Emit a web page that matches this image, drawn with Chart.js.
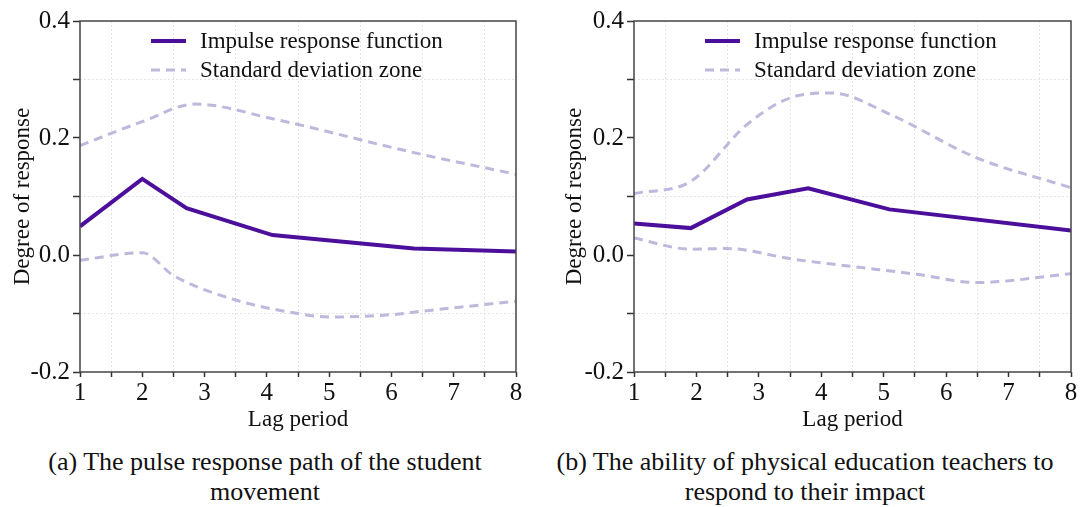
<!DOCTYPE html>
<html>
<head>
<meta charset="utf-8">
<script src="https://cdn.jsdelivr.net/npm/chart.js@4/dist/chart.umd.min.js"></script>
<style>
  body { margin: 0; background: #fff; width: 1080px; height: 507px; position: relative; overflow: hidden; }
  .panel { position: absolute; top: 0; width: 540px; height: 440px; }
  .caption { position: absolute; top: 447px; width: 540px; text-align: center; font: 26px "Liberation Serif", serif; line-height: 30px; color: #111; white-space: nowrap; }
</style>
</head>
<body>
<div class="panel" style="left:0"><canvas id="chartA"></canvas></div>
<div class="panel" style="left:540px"><canvas id="chartB"></canvas></div>
<div class="caption" style="left:-5px">(a) The pulse response path of the student<br>movement</div>
<div class="caption" style="left:535px">(b) The ability of physical education teachers to<br>respond to their impact</div>
<script>
// --- dados ---
const legendLabels = ['Impulse response function', 'Standard deviation zone'];
const xTitle = 'Lag period';
const yTitle = 'Degree of response';

// painel (a)
const irfXA = [1, 2, 2.71, 4.09, 6.36, 8];
const irfYA = [0.049, 0.130, 0.080, 0.034, 0.011, 0.006];
const upperXA = [1, 2, 2.85, 4.09, 6.36, 8];
const upperYA = [0.187, 0.228, 0.258, 0.233, 0.175, 0.138];
const lowerXA = [1, 2, 2.5, 3.5, 4.5, 5, 6, 6.5, 8];
const lowerYA = [-0.009, 0.004, -0.035, -0.077, -0.100, -0.106, -0.102, -0.096, -0.079];

// painel (b)
const irfXB = [1, 1.91, 2.81, 3.79, 5.09, 8];
const irfYB = [0.054, 0.046, 0.095, 0.114, 0.078, 0.042];
const upperXB = [1, 1.91, 2.82, 3.54, 4.17, 5.09, 6.47, 8];
const upperYB = [0.105, 0.126, 0.224, 0.270, 0.277, 0.241, 0.167, 0.115];
const lowerXB = [1, 1.91, 2.49, 3.54, 4.53, 5.53, 6.49, 8];
const lowerYB = [0.029, 0.010, 0.011, -0.007, -0.020, -0.033, -0.047, -0.032];

const IRF_COLOR = '#4b0f9c';
const BAND_COLOR = '#bdb8dc';
const FONT = '"Liberation Serif", "Times New Roman", serif';

const pts = (xs, ys) => xs.map((x, i) => ({ x, y: ys[i] }));

// caixa em volta da área do gráfico
const boxPlugin = {
  id: 'box',
  afterDatasetsDraw(chart) {
    const { ctx, chartArea: a } = chart;
    ctx.save();
    ctx.strokeStyle = '#444';
    ctx.lineWidth = 1.5;
    ctx.strokeRect(a.left, a.top, a.right - a.left, a.bottom - a.top);
    ctx.restore();
  }
};

// legenda dentro da área do gráfico
const legendPlugin = {
  id: 'innerLegend',
  afterDraw(chart) {
    const { ctx, chartArea: a } = chart;
    const sets = [chart.data.datasets[0], chart.data.datasets[1]];
    ctx.save();
    ctx.font = '23px ' + FONT;
    ctx.textBaseline = 'middle';
    sets.forEach((ds, i) => {
      const y = a.top + 20 + i * 29;
      const x0 = a.left + 71;
      ctx.strokeStyle = ds.borderColor;
      ctx.lineWidth = ds.borderWidth;
      ctx.setLineDash(ds.borderDash || []);
      ctx.beginPath();
      ctx.moveTo(x0, y);
      ctx.lineTo(x0 + 35, y);
      ctx.stroke();
      ctx.setLineDash([]);
      ctx.fillStyle = '#111';
      ctx.fillText(legendLabels[i], x0 + 49, y + 1);
    });
    ctx.restore();
  }
};

function montarGrafico(id, irf, upper, lower, yWidth, padRight, yTitlePad) {
  return new Chart(document.getElementById(id), {
    type: 'line',
    data: {
      datasets: [
        { data: irf, borderColor: IRF_COLOR, borderWidth: 4, pointRadius: 0, tension: 0 },
        { data: upper, borderColor: BAND_COLOR, borderWidth: 3, borderDash: [9, 6], pointRadius: 0, cubicInterpolationMode: 'monotone' },
        { data: lower, borderColor: BAND_COLOR, borderWidth: 3, borderDash: [9, 6], pointRadius: 0, cubicInterpolationMode: 'monotone' }
      ]
    },
    options: {
      responsive: true,
      maintainAspectRatio: false,
      animation: false,
      layout: { padding: { left: 0, right: padRight, top: 21, bottom: 0 } },
      plugins: { legend: { display: false }, tooltip: { enabled: false } },
      scales: {
        x: {
          type: 'linear', min: 1, max: 8,
          afterFit: s => { s.height = 68; },
          ticks: {
            stepSize: 0.5, autoSkip: false, maxRotation: 0, padding: 1,
            color: '#111', font: { family: FONT, size: 25 },
            callback: v => (Math.abs(v - Math.round(v)) < 1e-6 ? String(Math.round(v)) : '')
          },
          grid: {
            color: c => (c.tick && Math.abs(c.tick.value - Math.round(c.tick.value)) > 1e-6 ? '#e4e4e4' : 'transparent'),
            tickColor: '#333', tickWidth: 1.5, tickLength: 5, lineWidth: 1
          },
          border: { display: false, dash: [2, 2] },
          title: { display: true, text: xTitle, color: '#111', font: { family: FONT, size: 23 }, padding: { top: 6, bottom: 6 } }
        },
        y: {
          min: -0.2, max: 0.4,
          afterFit: s => { s.width = yWidth; },
          ticks: {
            stepSize: 0.1, autoSkip: false, padding: 3,
            color: '#111', font: { family: FONT, size: 25 },
            callback: v => (Math.round(v * 10) % 2 === 0 ? (Math.round(v * 10) / 10).toFixed(1) : '')
          },
          grid: {
            color: c => (c.tick && Math.round(c.tick.value * 10) % 2 !== 0 ? '#e4e4e4' : 'transparent'),
            tickColor: '#333', tickWidth: 1.5, tickLength: 7, lineWidth: 1
          },
          border: { display: false, dash: [2, 2] },
          title: { display: true, text: yTitle, color: '#111', font: { family: FONT, size: 23 }, padding: { top: yTitlePad, bottom: yTitlePad } }
        }
      }
    },
    plugins: [boxPlugin, legendPlugin]
  });
}

montarGrafico('chartA', pts(irfXA, irfYA), pts(upperXA, upperYA), pts(lowerXA, lowerYA), 80, 24, 9);
montarGrafico('chartB', pts(irfXB, irfYB), pts(upperXB, upperYB), pts(lowerXB, lowerYB), 94, 9, 21);
</script>
</body>
</html>
